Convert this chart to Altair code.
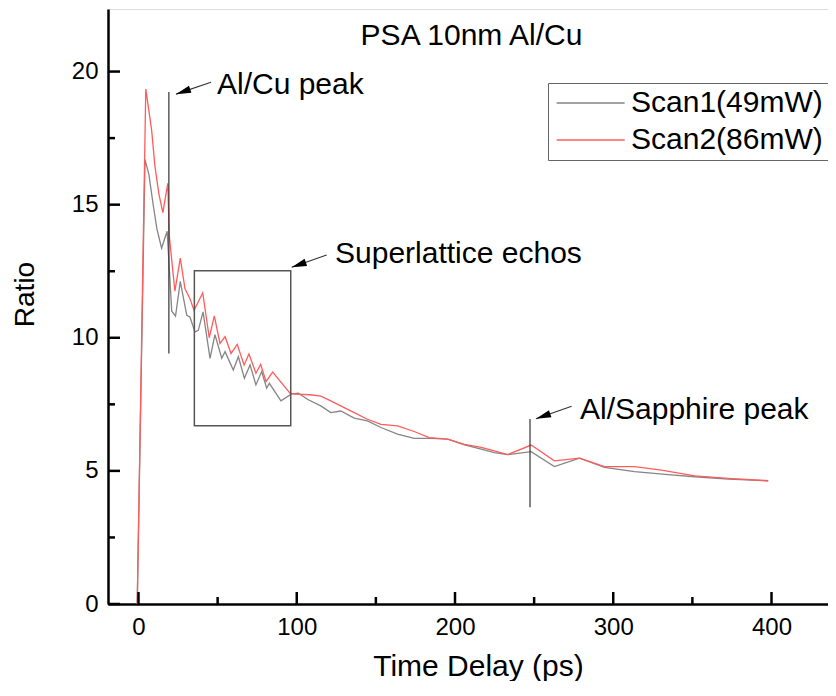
import altair as alt
import pandas as pd

# ---------------- data ----------------
series_names = ["Scan1(49mW)", "Scan2(86mW)"]

t_scan1 = [-0.8, 4.1, 6.6, 9.4, 11.6, 14.6, 18.1, 21.0, 23.4, 26.4, 30.5, 32.5,
           35.7, 37.8, 40.8, 45.2, 48.3, 52.6, 54.7, 59.9, 63.1, 66.9, 70.5,
           74.2, 77.8, 81.0, 82.7, 90.0, 96.5, 101.0, 107.3, 115.2, 121.5,
           127.8, 136.3, 144.7, 153.2, 163.7, 174.2, 184.8, 195.4, 206.0,
           216.5, 224.9, 233.3, 248.1, 262.8, 278.7, 294.5, 313.5, 334.6,
           351.5, 372.6, 397.9]
ratio_scan1 = [0.0, 16.69, 16.13, 14.95, 14.1, 13.37, 14.0, 11.0, 10.81, 12.12,
               10.84, 10.78, 10.22, 10.28, 10.97, 9.23, 10.12, 9.23, 9.48, 8.79,
               9.29, 8.48, 8.98, 8.23, 8.73, 8.11, 8.29, 7.63, 7.88, 7.92, 7.67,
               7.44, 7.19, 7.25, 6.98, 6.88, 6.63, 6.38, 6.22, 6.22, 6.19, 5.98,
               5.82, 5.69, 5.61, 5.72, 5.16, 5.48, 5.13, 4.97, 4.86, 4.78, 4.69,
               4.63]

t_scan2 = [-0.8, 4.6, 6.2, 8.3, 10.4, 12.9, 15.4, 18.5, 19.5, 23.0, 26.4, 29.4,
           32.5, 35.1, 40.6, 44.7, 47.9, 51.5, 54.7, 58.5, 62.4, 66.7, 69.8,
           74.2, 77.2, 80.6, 84.8, 95.7, 98.9, 108.4, 115.2, 121.5, 127.8,
           136.3, 144.7, 153.2, 163.7, 174.2, 183.7, 195.4, 206.0, 216.5,
           224.9, 233.3, 248.1, 262.8, 278.7, 294.5, 313.5, 330.4, 351.5,
           372.6, 397.9]
ratio_scan2 = [0.0, 19.34, 18.68, 17.8, 16.44, 15.4, 14.7, 15.8, 13.8, 11.75,
               12.99, 11.84, 11.47, 11.03, 11.69, 10.0, 10.82, 9.79, 10.04, 9.41,
               9.75, 8.98, 9.39, 8.67, 9.0, 8.36, 8.71, 7.92, 7.88, 7.86, 7.81,
               7.63, 7.44, 7.19, 6.94, 6.75, 6.69, 6.48, 6.25, 6.19, 6.0, 5.88,
               5.75, 5.61, 5.97, 5.38, 5.48, 5.16, 5.16, 5.03, 4.81, 4.72, 4.63]

x_major = [0, 100, 200, 300, 400]
x_minor = [50, 150, 250, 350]
y_major = [0, 5, 10, 15, 20]
y_minor = [2.5, 7.5, 12.5, 17.5]

chart_title = "PSA 10nm Al/Cu"
x_title = "Time Delay (ps)"
y_title = "Ratio"

# annotations (data coordinates)
note_labels = ["Al/Cu peak", "Superlattice echos", "Al/Sapphire peak"]
note_t = [49.6, 124.2, 279.0]
note_r = [19.5, 13.13, 7.3]
arrow_t0 = [45.8, 118.9, 273.7]
arrow_r0 = [19.6, 13.11, 7.43]
arrow_t1 = [23.7, 96.8, 251.2]
arrow_r1 = [19.15, 12.65, 6.96]
marker_t = [19.2, 247.4]
marker_r_low = [9.41, 3.63]
marker_r_high = [19.23, 6.95]
box_t = [35.3, 96.2]
box_r = [6.70, 12.52]

# ---------------- tables ----------------
df = pd.concat([
    pd.DataFrame({"t": t_scan1, "ratio": ratio_scan1, "series": series_names[0]}),
    pd.DataFrame({"t": t_scan2, "ratio": ratio_scan2, "series": series_names[1]}),
], ignore_index=True)

notes = pd.DataFrame({"label": note_labels, "t": note_t, "r": note_r,
                      "t0": arrow_t0, "r0": arrow_r0, "t1": arrow_t1, "r1": arrow_r1})
markers = pd.DataFrame({"t": marker_t, "lo": marker_r_low, "hi": marker_r_high})
box = pd.DataFrame({"t": [box_t[0]], "t2": [box_t[1]], "r": [box_r[0]], "r2": [box_r[1]]})

W, H = 720, 595
xs = alt.Scale(domain=[-19.27, 435.7], nice=False, zero=False)
ys = alt.Scale(domain=[0, 22.35], nice=False, zero=False)

FONT = "Liberation Sans"

x_axis = alt.Axis(values=x_major, ticks=False, tickSize=0, grid=False,
                  domainColor="black", domainWidth=2.5,
                  labelFont=FONT, labelFontSize=24, labelColor="black",
                  labelPadding=11, title=x_title, titleFont=FONT,
                  titleFontSize=30, titleFontWeight="normal", titleColor="black",
                  titleX=370, titleY=71, titleAlign="center",
                  titleBaseline="alphabetic")
y_axis = alt.Axis(values=y_major, ticks=False, tickSize=0, grid=False,
                  domainColor="black", domainWidth=2.5,
                  labelFont=FONT, labelFontSize=24, labelColor="black",
                  labelPadding=10, title=y_title, titleFont=FONT,
                  titleFontSize=28, titleFontWeight="normal", titleColor="black",
                  titleX=-83, titleY=285, titleAngle=270, titleAlign="center",
                  titleBaseline="middle")

lines = alt.Chart(df).mark_line(strokeWidth=1.3).encode(
    x=alt.X("t:Q", scale=xs, axis=x_axis),
    y=alt.Y("ratio:Q", scale=ys, axis=y_axis),
    color=alt.Color("series:N",
                    scale=alt.Scale(domain=series_names, range=["#858585", "#ff5c5c"]),
                    legend=alt.Legend(orient="none", legendX=440, legendY=74,
                                      title=None, symbolType="M-1,0L5,0",
                                      symbolSize=514, symbolStrokeWidth=1.3,
                                      labelFont=FONT, labelFontSize=30,
                                      labelColor="black", labelLimit=500,
                                      labelOffset=48, strokeColor="#666666",
                                      padding=5, rowPadding=7)),
)

# inward ticks
def xticks(vals, length):
    return alt.Chart(pd.DataFrame({"v": vals})).mark_rule(
        color="black", strokeWidth=2.5).encode(
        x=alt.X("v:Q", scale=xs), y=alt.value(H), y2=alt.value(H - length))

def yticks(vals, length):
    return alt.Chart(pd.DataFrame({"v": vals})).mark_rule(
        color="black", strokeWidth=2.5).encode(
        y=alt.Y("v:Q", scale=ys), x=alt.value(0), x2=alt.value(length))

ticks = xticks(x_major, 12) + xticks(x_minor, 7) + yticks(y_major, 12) + yticks(y_minor, 7)

marker_rules = alt.Chart(markers).mark_rule(color="#333333", strokeWidth=1.2).encode(
    x=alt.X("t:Q", scale=xs), y=alt.Y("lo:Q", scale=ys), y2="hi:Q")

box_rect = alt.Chart(box).mark_rect(fill=None, fillOpacity=0, stroke="#555555",
                                    strokeWidth=1.5).encode(
    x=alt.X("t:Q", scale=xs), x2="t2:Q", y=alt.Y("r:Q", scale=ys), y2="r2:Q")

arrow_shafts = alt.Chart(notes).mark_rule(color="#333333", strokeWidth=1.2).encode(
    x=alt.X("t0:Q", scale=xs), y=alt.Y("r0:Q", scale=ys), x2="t1:Q", y2="r1:Q")

arrow_heads = alt.Chart(notes).mark_point(
    shape="M0,0L0.5,2L-0.5,2Z", size=225, filled=True, color="black",
    opacity=1, angle=251).encode(
    x=alt.X("t1:Q", scale=xs), y=alt.Y("r1:Q", scale=ys))

note_text = alt.Chart(notes).mark_text(
    font=FONT, fontSize=30, align="left", baseline="middle", color="black").encode(
    x=alt.X("t:Q", scale=xs), y=alt.Y("r:Q", scale=ys), text="label:N")

title_text = alt.Chart(pd.DataFrame({"label": [chart_title]})).mark_text(
    font=FONT, fontSize=30, align="center", baseline="alphabetic",
    color="black").encode(x=alt.value(363.5), y=alt.value(36), text="label:N")

chart = alt.layer(
    lines, box_rect, marker_rules, arrow_shafts, arrow_heads, note_text,
    title_text, ticks
).properties(
    width=W, height=H, autosize="none",
    padding={"left": 100, "top": 1, "right": 0, "bottom": 77},
).configure_view(stroke="black", strokeWidth=2.5).configure(background="white")

chart.save("out.html", embed_options={"renderer": "svg", "actions": False})
